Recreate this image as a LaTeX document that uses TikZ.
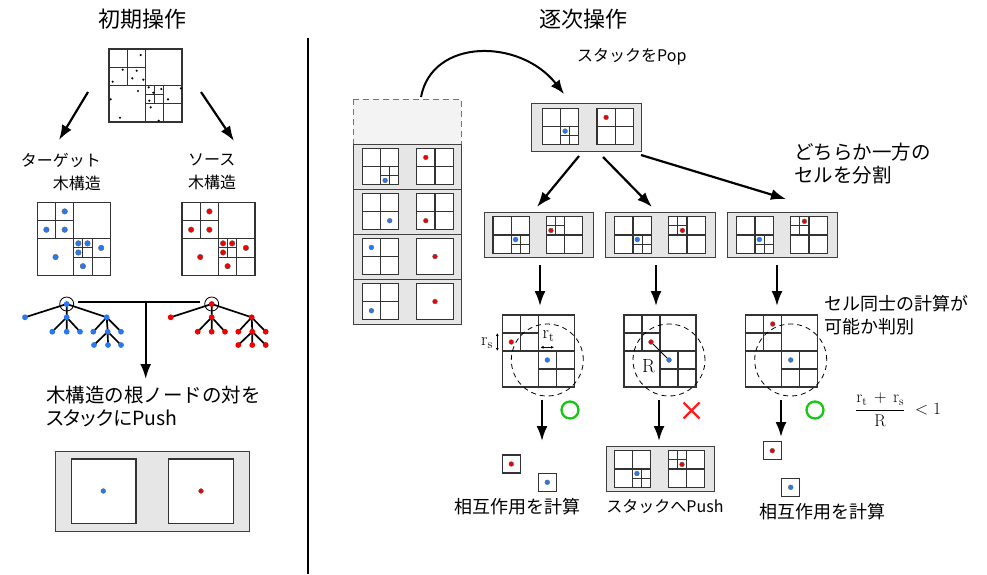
\documentclass[tikz,border=0pt]{standalone}
\usepackage{fontspec}
\newfontfamily\jp{Noto Sans CJK JP}
\newfontfamily\jpp[RawFeature=+palt]{Noto Sans CJK JP}
\usetikzlibrary{arrows.meta}
\definecolor{dotblue}{RGB}{40,120,240}
\definecolor{dotred}{RGB}{240,0,0}
\definecolor{boxgray}{RGB}{230,230,230}
\definecolor{lightgray2}{RGB}{243,243,243}
\definecolor{okgreen}{RGB}{20,200,20}
\definecolor{ngred}{RGB}{255,30,30}
\tikzset{
  cell/.style={draw=black!80, line width=1.1pt},
  gbox/.style={draw=black!75, fill=boxgray, line width=0.9pt},
  arr/.style={line width=2.2pt, -{Latex[length=15pt,width=11pt]}},
  bdot/.style={fill=dotblue, draw=black!60, line width=0.4pt},
  rdot/.style={fill=dotred, draw=black!60, line width=0.4pt},
  kdot/.style={fill=black},
  tedge/.style={line width=1.7pt},
  lbl/.style={font=\jp\fontsize{18}{23}\selectfont, inner sep=0pt},
  slbl/.style={font=\jp\fontsize{16}{23}\selectfont, inner sep=0pt},
  ttl/.style={font=\jp\fontsize{22}{24}\selectfont, inner sep=0pt},
}
% square with top-left (x,y), size s
\newcommand\csq[3]{\draw[cell,fill=white] (#1,#2) rectangle ++(#3,#3);}
\newcommand\cmid[3]{\draw[cell] ({#1+#3/2},#2) -- ++(0,#3) (#1,{#2+#3/2}) -- ++(#3,0);}
\newcommand\pA[3]{\csq{#1}{#2}{#3}\cmid{#1}{#2}{#3}\cmid{#1+#3/2}{#2+#3/2}{#3/2}}
\newcommand\pB[3]{\csq{#1}{#2}{#3}\cmid{#1}{#2}{#3}\cmid{#1}{#2}{#3/2}}
\newcommand\pC[3]{\csq{#1}{#2}{#3}\cmid{#1}{#2}{#3}}
\newcommand\pE[3]{\csq{#1}{#2}{#3}\cmid{#1}{#2}{#3}\cmid{#1}{#2}{#3/2}\cmid{#1+#3/2}{#2+#3/2}{#3/2}}
\newcommand\pT[3]{\pE{#1}{#2}{#3}\cmid{#1+#3/2}{#2+#3/2}{#3/4}}
\newcommand\bd[2]{\filldraw[bdot] (#1,#2) circle (2.4pt);}
\newcommand\rd[2]{\filldraw[rdot] (#1,#2) circle (2.4pt);}
\newcommand\kd[2]{\fill[kdot] (#1,#2) circle (1.2pt);}
\newcommand\tdots[3]{% x y style
 \foreach \u/\v in {27.4/9.1, 9.1/27.4, 27.4/27.4, 18.25/54.75, 41.06/41.06, 50.2/41.06, 41.06/50.2, 63.9/45.6, 45.6/63.9}
   {\filldraw[#3] ({#1+\u},{#2+\v}) circle (2.8pt);}}
\begin{document}
\begin{tikzpicture}[x=1pt,y=-1pt]
\useasboundingbox (0,0) rectangle (987,574);
% titles and divider
\node[ttl] (t1) at (142,19) {初期操作};
\node[ttl] (t2) at (583,19) {逐次操作};
\coordinate (dv1) at (308,38); \coordinate (dv2) at (308,574);
\draw[line width=2.2pt] (dv1) -- (dv2);

% ---------- left: initial quadtree ----------
\pT{109}{49}{73}
\foreach \p/\q in {140.7/55,122.7/69.7,136.7/70.7,112.7/81.7,132.3/78.3,143.3/79.7,138/91,110.7/99.3,120/117.7,148.7/87.3,153.3/92.7,161.3/89,181/88.3,149.3/100.7,150.7/107.3,168/99.3,158.7/120.7}
  {\kd{\p}{\q}}
\coordinate (qa1) at (88,92); \coordinate (qa2) at (59,140);
\coordinate (qb1) at (201,92); \coordinate (qb2) at (234,141);
\draw[arr] (qa1) -- (qa2);
\draw[arr] (qb1) -- (qb2);
\node[slbl, anchor=east, align=right] (lt) at (101,172) {ターゲット\\木構造};
\node[slbl, anchor=west, align=left] (ls) at (188,172) {ソース\\木構造};
\pT{37.3}{202.3}{73}
\tdots{37.3}{202.3}{bdot}
\pT{182}{202.3}{73}
\tdots{182}{202.3}{rdot}

% ---------- trees ----------
\begin{scope}
\coordinate (L0) at (66.7,304);
\coordinate (L1) at (25,317.3); \coordinate (L2) at (66.7,317.3); \coordinate (L3) at (106.7,317.3);
\coordinate (L21) at (52.3,331.7); \coordinate (L22) at (66.7,331.7); \coordinate (L23) at (80,331.7);
\coordinate (L31) at (93.3,331.7); \coordinate (L32) at (107.7,331.7); \coordinate (L33) at (121,331.7);
\coordinate (L321) at (94,345); \coordinate (L322) at (108,345); \coordinate (L323) at (121,345);
\draw[tedge] (L0)--(L1) (L0)--(L2) (L0)--(L3) (L2)--(L21) (L2)--(L22) (L2)--(L23)
  (L3)--(L31) (L3)--(L32) (L3)--(L33) (L32)--(L321) (L32)--(L322) (L32)--(L323);
\foreach \n in {L0,L1,L2,L3,L21,L22,L23,L31,L32,L33,L321,L322,L323} {\fill[dotblue] (\n) circle (2.9pt);}
\draw[line width=0.8pt] (L0) circle (7pt);
\coordinate (R0) at (211.7,304);
\coordinate (R1) at (170.7,317.3); \coordinate (R2) at (211.7,317.3); \coordinate (R3) at (251.7,317.3);
\coordinate (R21) at (197.7,331.7); \coordinate (R22) at (211.7,331.7); \coordinate (R23) at (225,331.7);
\coordinate (R31) at (238.3,331.7); \coordinate (R32) at (252.3,331.7); \coordinate (R33) at (265.7,331.7);
\coordinate (R321) at (238.3,345); \coordinate (R322) at (252.3,345); \coordinate (R323) at (265.7,345);
\draw[tedge] (R0)--(R1) (R0)--(R2) (R0)--(R3) (R2)--(R21) (R2)--(R22) (R2)--(R23)
  (R3)--(R31) (R3)--(R32) (R3)--(R33) (R32)--(R321) (R32)--(R322) (R32)--(R323);
\foreach \n in {R0,R1,R2,R3,R21,R22,R23,R31,R32,R33,R321,R322,R323} {\fill[dotred] (\n) circle (2.9pt);}
\draw[line width=0.8pt] (R0) circle (7pt);
\end{scope}
\coordinate (bar1) at (78.3,302.3); \coordinate (bar2) at (200,302.3);
\coordinate (barm) at (145.7,302.3); \coordinate (bare) at (145.7,379);
\draw[line width=2pt] (bar1) -- (bar2);
\draw[arr] (barm) -- (bare);
\node[inner sep=0pt, anchor=west, align=left, font=\jp\fontsize{19.5}{23}\selectfont] (lpush) at (46,407) {木構造の根ノードの対を\\{\jpp スタックにPush}};
% initial stack element
\draw[gbox] (55.3,451) rectangle (249.3,531.7);
\draw[cell,fill=white] (71.7,459) rectangle (136,523.3);
\draw[cell,fill=white] (168.3,459) rectangle (233.3,523.3);
\bd{103.3}{491} \rd{201}{491}

% ---------- right: stack ----------
\draw[draw=black!55, fill=lightgray2, dashed, dash pattern=on 6pt off 4pt, line width=1pt] (353.3,99) rectangle (461,144.3);
\foreach \t in {144.3,189.3,234.3,279.3} {\draw[gbox] (353.3,\t) rectangle (461,\t+45);}
\pA{362.3}{148.3}{36.5} \pC{416.7}{148.3}{36.5}
\bd{385.1}{180.4} \rd{425.8}{157.4}
\pC{362.3}{193.3}{36.5} \pC{416.7}{193.3}{36.5}
\bd{389.7}{220.7} \rd{425.8}{220.7}
\pC{362.3}{238.3}{36.5} \csq{416.7}{238.3}{36.5}
\bd{371.4}{247.4} \rd{435}{256.5}
\pC{362.3}{283.3}{36.5} \csq{416.7}{283.3}{36.5}
\bd{371.4}{310.7} \rd{435}{301.5}

% pop arrow
\coordinate (pa1) at (421,97); \coordinate (pa2) at (564,94);
\draw[line width=2pt, -{Latex[length=14pt,width=11pt]}] (pa1) .. controls (432,38) and (520,38) .. (pa2);
\node[slbl, anchor=west] (lpop) at (577,57) {スタックをPop};

% popped box
\node[gbox, anchor=north west, minimum width=110pt, minimum height=48pt, inner sep=0pt] (pop) at (531,103) {};
\pA{542.3}{108.3}{36.5} \pC{597}{108.3}{36.5}
\bd{565.1}{131.1} \rd{606.1}{117.4}

\coordinate (s1) at (579,156); \coordinate (e1) at (537,207);
\coordinate (s2) at (603,157); \coordinate (e2) at (652,207);
\coordinate (s3) at (641,155); \coordinate (e3) at (786,199);
\draw[arr] (s1) -- (e1);
\draw[arr] (s2) -- (e2);
\draw[arr] (s3) -- (e3);
\node[inner sep=0pt, anchor=west, align=left, font=\jp\fontsize{19.5}{23}\selectfont] (ldiv) at (794,164) {どちらか一方の\\セルを分割};

% three split boxes
\node[gbox, anchor=north west, minimum width=109pt, minimum height=45pt, inner sep=0pt] (b1) at (484,211.7) {};
\node[gbox, anchor=north west, minimum width=110pt, minimum height=45pt, inner sep=0pt] (b2) at (605.3,211.7) {};
\node[gbox, anchor=north west, minimum width=110pt, minimum height=45pt, inner sep=0pt] (b3) at (727.3,211.7) {};
\pA{493}{216.7}{36.5} \pB{546.3}{216.7}{36.5}
\bd{515.6}{239.5} \rd{550.9}{230.4}
\pA{614.7}{216.7}{36.5} \pB{668.7}{216.7}{36.5}
\bd{637.3}{239.5} \rd{682.4}{230.4}
\pA{736.7}{216.7}{36.5} \pB{790.7}{216.7}{36.5}
\bd{759.3}{239.5} \rd{804.4}{221.3}

\coordinate (d1s) at (540,265); \coordinate (d1e) at (540,306);
\coordinate (d2s) at (656,265); \coordinate (d2e) at (656,306);
\coordinate (d3s) at (777,265); \coordinate (d3e) at (777,306);
\draw[arr] (d1s) -- (d1e);
\draw[arr] (d2s) -- (d2e);
\draw[arr] (d3s) -- (d3e);

% judgement squares
\pE{502.3}{315}{72}
\rd{511.3}{342} \bd{547.3}{360}
\draw[dashed, dash pattern=on 5pt off 4pt, line width=0.8pt] (547.3,360) circle (36pt);
\node[inner sep=0pt, font=\fontsize{18}{18}\selectfont] (lrs) at (487,343) {$\mathrm{r_s}$};
\coordinate (rs1) at (497.3,333); \coordinate (rs2) at (497.3,351);
\draw[line width=0.7pt, {Latex[length=3pt,width=3pt]}-{Latex[length=3pt,width=3pt]}] (rs1) -- (rs2);
\node[inner sep=0pt, font=\fontsize{18}{18}\selectfont] (lrt) at (548.5,336) {$\mathrm{r_t}$};
\coordinate (rt1) at (540.5,347.3); \coordinate (rt2) at (554,347.3);
\draw[line width=0.7pt, {Latex[length=3pt,width=3pt]}-{Latex[length=3pt,width=3pt]}] (rt1) -- (rt2);

\pE{624}{315}{72}
\coordinate (r2) at (651,342); \coordinate (b2d) at (669,360);
\draw[line width=0.9pt] (r2) -- (b2d);
\rd{651}{342} \bd{669}{360}
\draw[dashed, dash pattern=on 5pt off 4pt, line width=0.8pt] (669,360) circle (36pt);
\node[inner sep=0pt, font=\fontsize{19}{19}\selectfont] (lR) at (648.5,366.5) {R};

\pE{745.7}{315}{72}
\rd{772.7}{324} \bd{790.7}{360}
\draw[dashed, dash pattern=on 5pt off 4pt, line width=0.8pt] (790.7,360) circle (36pt);
\node[lbl, anchor=west, align=left] (ljudge) at (824,315) {セル同士の計算が\\可能か判別};
\node[inner sep=0pt, font=\fontsize{17}{17}\selectfont] (lfrac) at (898,410) {$\displaystyle\frac{\mathrm{r_t}\,+\,\mathrm{r_s}}{\mathrm{R}}\;<1$};

% results
\coordinate (f1s) at (542,400); \coordinate (f1e) at (542,441);
\coordinate (f2s) at (659,400); \coordinate (f2e) at (659,441);
\coordinate (f3s) at (781,400); \coordinate (f3e) at (781,437);
\draw[arr] (f1s) -- (f1e);
\draw[arr] (f2s) -- (f2e);
\draw[arr] (f3s) -- (f3e);
\draw[okgreen, line width=2.3pt] (570,410) circle (8.5pt);
\draw[okgreen, line width=2.3pt] (815,410) circle (8.5pt);
\draw[ngred, line width=2.3pt] (683.5,402.5) -- (699.5,418.5) (683.5,418.5) -- (699.5,402.5);

\csq{502.3}{455}{18} \rd{511.3}{464}
\csq{538.3}{473.3}{18} \bd{547.3}{482.3}
\node[lbl] (lres1) at (517,507) {相互作用を計算};

\node[gbox, anchor=north west, minimum width=108pt, minimum height=45pt, inner sep=0pt] (pushb) at (606,446) {};
\pA{614.3}{450.7}{36.5} \pB{668.3}{450.7}{36.5}
\bd{636.9}{473.5} \rd{682}{464.4}
\node[slbl] (lres2) at (665,507) {スタックへPush};

\csq{763.3}{441.7}{18} \rd{772.3}{450.7}
\csq{781.7}{478.3}{18} \bd{790.7}{487.3}
\node[lbl] (lres3) at (822,512) {相互作用を計算};
\end{tikzpicture}
\end{document}
